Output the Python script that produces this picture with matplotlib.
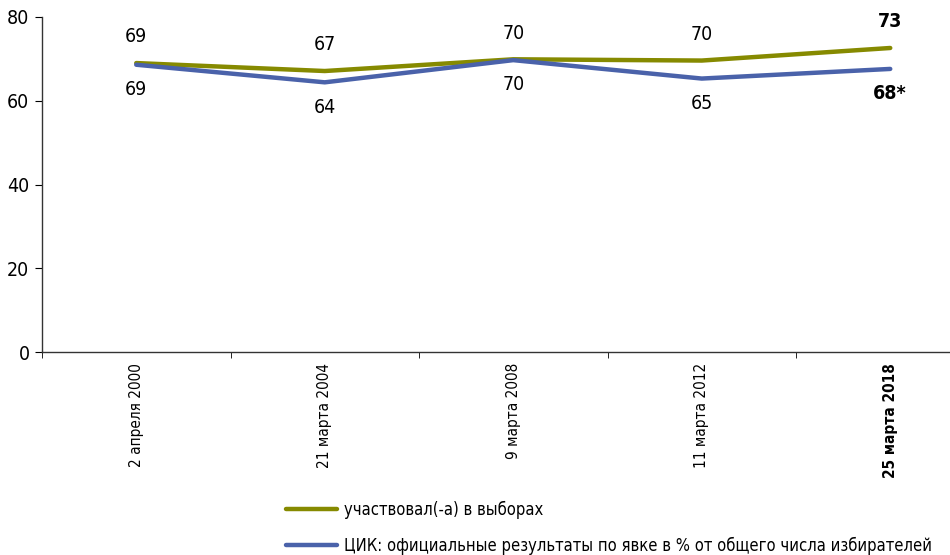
import matplotlib.pyplot as plt
import numpy as np
from matplotlib.ticker import FixedLocator

plt.rcParams['font.family'] = ['DejaVu Sans']
plt.rcParams['font.stretch'] = 'condensed'

# Data
dates = ['2 апреля 2000', '21 марта 2004', '9 марта 2008', '11 марта 2012', '25 марта 2018']
voted = [69.0, 67.1, 69.9, 69.6, 72.6]
cik = [68.6, 64.4, 69.7, 65.3, 67.6]
voted_labels = ['69', '67', '70', '70', '73']
cik_labels = ['69', '64', '70', '65', '68*']

green = '#868A00'
blue = '#4A62AA'

fig = plt.figure(figsize=(9.5, 5.55), dpi=100)
# axes: left at 42px, y0 at 352px, y80 at 17px
ax = fig.add_axes([42 / 950, 1 - 352 / 555, 908 / 950, 335 / 555])

x = np.arange(len(dates))
ax.plot(x, voted, color=green, lw=3.2, solid_capstyle='round', label='участвовал(-а) в выборах', zorder=3)
ax.plot(x, cik, color=blue, lw=3.2, solid_capstyle='round',
        label='ЦИК: официальные результаты по явке в % от общего числа избирателей', zorder=3)

for i in x:
    bold = 'bold' if i == len(dates) - 1 else 'normal'
    ax.annotate(voted_labels[i], (i, voted[i]), xytext=(0, 12), textcoords='offset points',
                ha='center', va='bottom', fontsize=14, fontweight=bold)
    ax.annotate(cik_labels[i], (i, cik[i]), xytext=(0, -11), textcoords='offset points',
                ha='center', va='top', fontsize=14, fontweight=bold)

ax.set_ylim(0, 80)
ax.set_xlim(-0.5, -0.5 + 908 / 188.5)
ax.set_yticks([0, 20, 40, 60, 80])
ax.tick_params(axis='y', labelsize=14, length=5, direction='out', pad=4)

ax.set_xticks(x)
ax.set_xticklabels(dates, rotation=90, fontsize=11)
for lbl in ax.get_xticklabels()[-1:]:
    lbl.set_fontweight('bold')
ax.tick_params(axis='x', which='major', length=0, pad=8)
ax.xaxis.set_minor_locator(FixedLocator(np.arange(-0.5, 5, 1.0)))
ax.tick_params(axis='x', which='minor', length=4, direction='out')

for s in ['top', 'right']:
    ax.spines[s].set_visible(False)
for s in ['left', 'bottom']:
    ax.spines[s].set_color('#333333')
    ax.spines[s].set_linewidth(1)

fig.legend(loc='upper left', bbox_to_anchor=(279 / 950, 1 - 494 / 555), frameon=False,
           fontsize=11.9, handlelength=3.1, handletextpad=0.45, labelspacing=1.1,
           borderaxespad=0)

fig.savefig('out.png', dpi=100)
